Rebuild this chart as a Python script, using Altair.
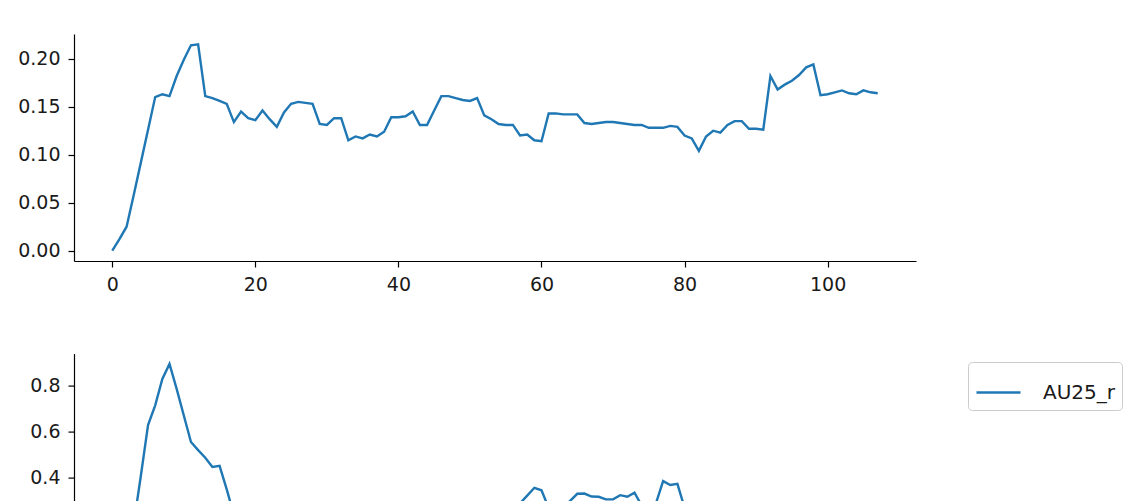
import altair as alt
import pandas as pd

x_index = list(range(108))

top_values = [
    0.000, 0.012, 0.025, 0.058, 0.092, 0.126, 0.160, 0.163, 0.161, 0.182,
    0.199, 0.214, 0.215, 0.161, 0.159, 0.156, 0.153, 0.134, 0.145, 0.138,
    0.136, 0.146, 0.137, 0.129, 0.144, 0.153, 0.155, 0.154, 0.153, 0.132,
    0.131, 0.138, 0.138, 0.115, 0.119, 0.117, 0.121, 0.119, 0.124, 0.139,
    0.139, 0.140, 0.145, 0.131, 0.131, 0.146, 0.161, 0.161, 0.159, 0.157,
    0.156, 0.159, 0.141, 0.137, 0.132, 0.131, 0.131, 0.120, 0.121, 0.115,
    0.114, 0.143, 0.143, 0.142, 0.142, 0.142, 0.133, 0.132, 0.133, 0.134,
    0.134, 0.133, 0.132, 0.131, 0.131, 0.128, 0.128, 0.128, 0.130, 0.129,
    0.120, 0.117, 0.104, 0.119, 0.125, 0.123, 0.131, 0.135, 0.135, 0.127,
    0.127, 0.126, 0.182, 0.168, 0.173, 0.177, 0.183, 0.191, 0.194, 0.162,
    0.163, 0.165, 0.167, 0.164, 0.163, 0.167, 0.165, 0.164,
]

bottom_values = [
    0.000, 0.060, 0.120, 0.200, 0.410, 0.628, 0.714, 0.828, 0.893, 0.785,
    0.670, 0.555, 0.520, 0.487, 0.447, 0.452, 0.350, 0.240, 0.220, 0.200,
    0.210, 0.190, 0.180, 0.200, 0.220, 0.210, 0.200, 0.190, 0.180, 0.170,
    0.180, 0.190, 0.170, 0.160, 0.170, 0.180, 0.200, 0.210, 0.200, 0.190,
    0.210, 0.220, 0.230, 0.220, 0.210, 0.230, 0.240, 0.250, 0.240, 0.230,
    0.240, 0.250, 0.240, 0.230, 0.250, 0.260, 0.270, 0.290, 0.323, 0.357,
    0.346, 0.270, 0.260, 0.270, 0.300, 0.331, 0.332, 0.319, 0.318, 0.307,
    0.307, 0.325, 0.318, 0.336, 0.280, 0.270, 0.290, 0.386, 0.369, 0.374,
    0.270, 0.240, 0.220, 0.230, 0.250, 0.240, 0.260, 0.250, 0.240, 0.230,
    0.220, 0.240, 0.280, 0.260, 0.270, 0.280, 0.290, 0.280, 0.270, 0.250,
    0.240, 0.250, 0.260, 0.250, 0.240, 0.250, 0.260, 0.250,
]

series_name = "AU25_r"
x_ticks = [0, 20, 40, 60, 80, 100]
top_ticks = [0.00, 0.05, 0.10, 0.15, 0.20]
bottom_ticks = [0.0, 0.2, 0.4, 0.6, 0.8]

LINE_COLOR = "#1f77b4"
FONT = "DejaVu Sans"


def padded(lo, hi, frac=0.05):
    r = hi - lo
    return [lo - frac * r, hi + frac * r]


df_top = pd.DataFrame({"x": x_index, "y": top_values})
df_bot = pd.DataFrame({"x": x_index, "y": bottom_values, "series": series_name})

axis_style = dict(
    grid=False,
    title=None,
    domainColor="black",
    domainWidth=1.2,
    tickColor="black",
    tickWidth=1.2,
    tickSize=6,
    labelColor="#1a1a1a",
    labelFont=FONT,
    labelFontSize=19,
)

x_scale = alt.Scale(domain=padded(min(x_index), max(x_index)), nice=False, zero=False)

top = alt.Chart(df_top).mark_line(color=LINE_COLOR, strokeWidth=2.4).encode(
    x=alt.X("x:Q", scale=x_scale,
            axis=alt.Axis(values=x_ticks, format="d", labelPadding=8, **axis_style)),
    y=alt.Y("y:Q",
            scale=alt.Scale(domain=padded(min(top_values), max(top_values)), nice=False, zero=False),
            axis=alt.Axis(values=top_ticks, format=".2f", labelPadding=8, **axis_style)),
).properties(width=842, height=227)

bottom = alt.Chart(df_bot).mark_line(strokeWidth=2.4).encode(
    x=alt.X("x:Q", scale=x_scale,
            axis=alt.Axis(values=x_ticks, format="d", labelPadding=8, **axis_style)),
    y=alt.Y("y:Q",
            scale=alt.Scale(domain=padded(min(bottom_values), max(bottom_values)), nice=False, zero=False),
            axis=alt.Axis(values=bottom_ticks, format=".1f", labelPadding=8, **axis_style)),
    color=alt.Color(
        "series:N",
        scale=alt.Scale(range=[LINE_COLOR]),
        legend=alt.Legend(
            title=None,
            orient="none",
            legendX=894,
            legendY=328,
            symbolType="stroke",
            symbolSize=1936,
            symbolStrokeWidth=2.4,
            labelFont=FONT,
            labelFontSize=20,
            labelColor="#1a1a1a",
            labelOffset=21,
            padding=7,
            strokeColor="#cccccc",
            fillColor="rgba(255,255,255,0.8)",
            cornerRadius=4,
        ),
    ),
).properties(width=842, height=227)

chart = alt.vconcat(top, bottom, spacing=92.6, bounds="flush").configure_view(
    stroke=None
).properties(
    padding={"left": 9, "top": 26, "right": 5, "bottom": 5}
)

chart.save("out.html", embed_options={"renderer": "svg", "actions": False})
